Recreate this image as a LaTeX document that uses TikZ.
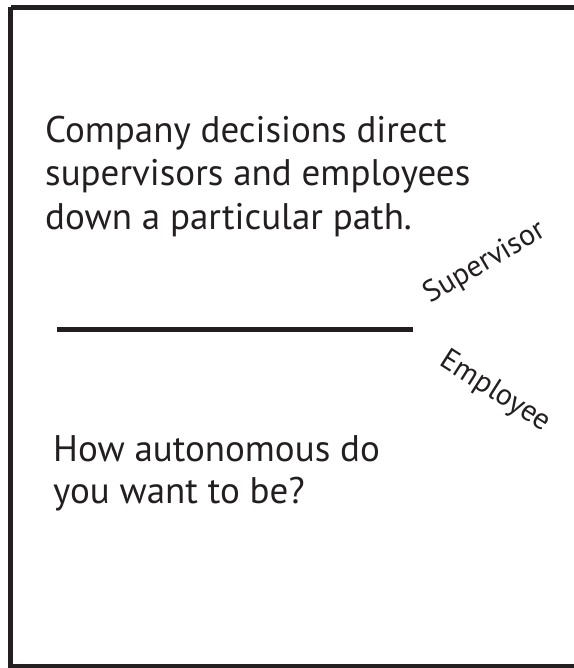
\documentclass[tikz,border=0pt]{standalone}
\usepackage{fontspec}
\setmainfont{PT Sans}
\definecolor{ink}{HTML}{231F20}
\begin{document}
\begin{tikzpicture}[x=1pt,y=-1pt,
  frame/.style={draw=ink,line width=5pt},
  bar/.style={draw=ink,line width=5pt},
  bigtext/.style={anchor=base west,inner sep=0pt,text=ink,font=\fontsize{37}{43.2}\selectfont,align=left},
  midtext/.style={anchor=base west,inner sep=0pt,text=ink,font=\fontsize{37}{42}\selectfont,align=left},
  tagtext/.style={inner sep=0pt,text=ink,font=\fontsize{30}{34}\selectfont}]
\useasboundingbox (0,0) rectangle (573,668);
\fill[white] (0,0) rectangle (573,668);
\draw[frame] (10.5,7.5) -- (600,7.5);
\draw[frame] (10.5,7.5) -- (10.5,666.5) -- (600,666.5);
\coordinate (barL) at (57,329.5);
\coordinate (barR) at (413,329.5);
\draw[bar] (barL) -- (barR);
\node[bigtext] (top) at (45,229) {Company decisions direct\\supervisors and employees\\down a particular path.};
\node[midtext] (q) at (53,503.5) {How autonomous do\\you want to be?};
\node[tagtext,rotate=30.5] (sup) at (485,263) {Supervisor};
\node[tagtext,rotate=-32.5] (emp) at (495,392) {Employee};
\end{tikzpicture}
\end{document}
